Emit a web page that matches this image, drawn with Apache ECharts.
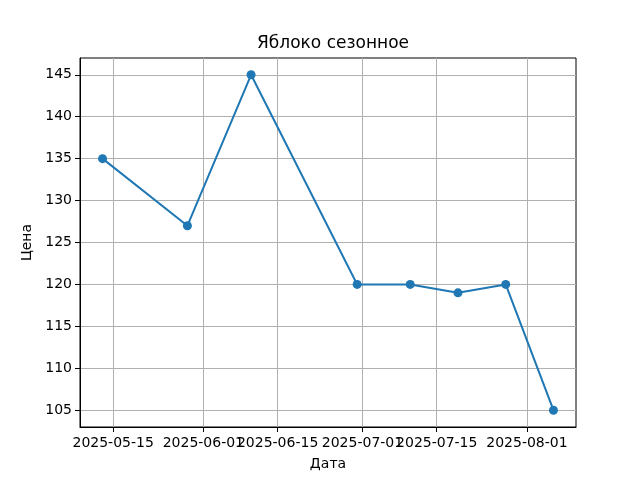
<!DOCTYPE html>
<html>
<head>
<meta charset="utf-8">
<script src="https://cdn.jsdelivr.net/npm/echarts@6/dist/echarts.min.js"></script>
<style>
  html, body { margin: 0; padding: 0; background: #fff; }
  #main { width: 640px; height: 480px; }
</style>
</head>
<body>
<div id="main"></div>
<script>
// данные графика
var dates = ['2025-05-13', '2025-05-29', '2025-06-10', '2025-06-30', '2025-07-10', '2025-07-19', '2025-07-28', '2025-08-06'];
var prices = [135, 127, 145, 120, 120, 119, 120, 105];
var xTickDates = ['2025-05-15', '2025-06-01', '2025-06-15', '2025-07-01', '2025-07-15', '2025-08-01'];
var yTicks = [105, 110, 115, 120, 125, 130, 135, 140, 145];

function ts(s) { return new Date(s + 'T00:00:00Z').getTime(); }
function pad(n) { return n < 10 ? '0' + n : '' + n; }
function fmt(v) {
    var d = new Date(v);
    return d.getUTCFullYear() + '-' + pad(d.getUTCMonth() + 1) + '-' + pad(d.getUTCDate());
}

var xs = dates.map(ts);
var xSpan = xs[xs.length - 1] - xs[0];
var xMin = xs[0] - xSpan * 0.05;
var xMax = xs[xs.length - 1] + xSpan * 0.05;
var yLo = Math.min.apply(null, prices), yHi = Math.max.apply(null, prices);
var yMin = yLo - (yHi - yLo) * 0.05;
var yMax = yHi + (yHi - yLo) * 0.05;
var xTicks = xTickDates.map(ts);

var myChart = echarts.init(document.getElementById('main'));
myChart.setOption({
    animation: false,
    textStyle: { fontFamily: 'DejaVu Sans' },
    title: {
        text: 'Яблоко сезонное',
        left: 328,
        top: 30,
        textAlign: 'center',
        textStyle: { fontSize: 17, fontWeight: 'normal', color: '#000', fontFamily: 'DejaVu Sans' }
    },
    grid: {
        left: 80, right: 64, top: 58, bottom: 53,
        show: true, borderColor: '#000', borderWidth: 1
    },
    xAxis: {
        type: 'value',
        min: xMin,
        max: xMax,
        name: 'Дата',
        nameLocation: 'middle',
        nameGap: 30,
        nameTextStyle: { fontSize: 14, color: '#000' },
        axisLine: { show: true, lineStyle: { color: '#000', width: 1 } },
        axisTick: { show: true, length: 5, lineStyle: { color: '#000' }, customValues: xTicks },
        axisLabel: {
            color: '#000', fontSize: 14, margin: 9,
            customValues: xTicks,
            formatter: function (v) { return fmt(v); }
        },
        splitLine: { show: true, lineStyle: { color: '#b0b0b0', width: 1 } }
    },
    yAxis: {
        type: 'value',
        min: yMin,
        max: yMax,
        name: 'Цена',
        nameLocation: 'middle',
        nameGap: 43,
        nameTextStyle: { fontSize: 14, color: '#000' },
        axisLine: { show: true, lineStyle: { color: '#000', width: 1 } },
        axisTick: { show: true, length: 5, lineStyle: { color: '#000' }, customValues: yTicks },
        axisLabel: {
            color: '#000', fontSize: 14, margin: 8,
            customValues: yTicks,
            formatter: function (v) { return String(v); }
        },
        splitLine: { show: true, lineStyle: { color: '#b0b0b0', width: 1 } }
    },
    series: [{
        type: 'line',
        data: xs.map(function (x, i) { return [x, prices[i]]; }),
        symbol: 'circle',
        symbolSize: 9,
        itemStyle: { color: '#1f77b4' },
        lineStyle: { color: '#1f77b4', width: 2 }
    }]
});
</script>
</body>
</html>
